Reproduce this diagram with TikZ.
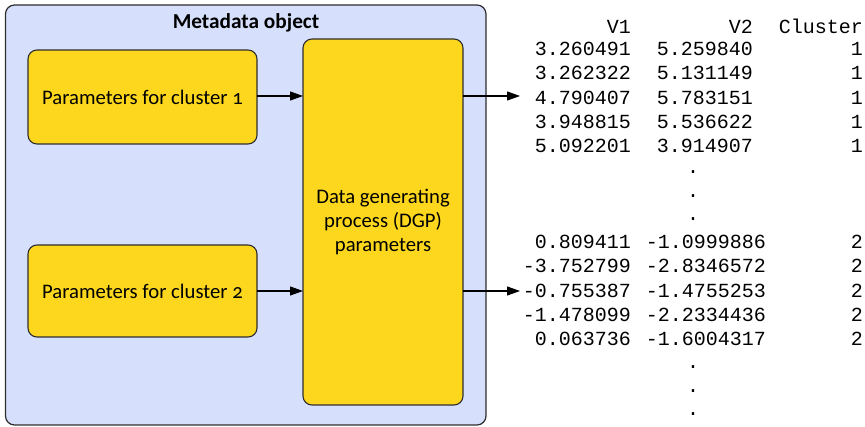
\documentclass[tikz,border=0pt]{standalone}
\usepackage{fontspec}
\setmainfont{Carlito}[Numbers=OldStyle]
\setmonofont{Liberation Mono}
\usetikzlibrary{arrows.meta}
\definecolor{metabg}{HTML}{D6DFFC}
\definecolor{boxyellow}{HTML}{FDD71E}
\definecolor{edge}{HTML}{2E2E2E}
\tikzset{
  outerbox/.style={draw=edge, line width=1.2pt, fill=metabg, rounded corners=9pt},
  parambox/.style={draw=edge, line width=1.1pt, fill=boxyellow, rounded corners=9pt},
  boxtext/.style={font=\fontsize{20.7}{24}\selectfont, align=center},
  flow/.style={draw=black, line width=1.2pt, -{Triangle[length=13pt,width=9pt]}},
  cell/.style={font=\ttfamily\fontsize{20}{24}\selectfont, anchor=base east, inner sep=0pt},
  dotcell/.style={font=\ttfamily\fontsize{20}{24}\selectfont, anchor=base, inner sep=0pt}
}
\begin{document}
\begin{tikzpicture}[x=1pt,y=-1pt]
\useasboundingbox (0,0) rectangle (865,427);
% outer metadata box
\draw[outerbox] (5.5,5) rectangle (486,425);
\node[font=\bfseries\fontsize{21.3}{24}\selectfont] (title) at (246,23) {Metadata object};
% parameter boxes
\draw[parambox] (28,50) rectangle (257,144);
\node[boxtext] (p1) at (142.5,97) {Parameters for cluster 1};
\draw[parambox] (28,245) rectangle (257,337);
\node[boxtext] (p2) at (142.5,291) {Parameters for cluster 2};
\draw[parambox] (303,39) rectangle (463,405);
\node[boxtext] (dgp) at (383,222) {Data generating\\process (DGP)\\parameters};
% named anchors for connectors
\coordinate (p1e) at (257,96);
\coordinate (p2e) at (257,291);
\coordinate (d1w) at (303,96);
\coordinate (d2w) at (303,291);
\coordinate (d1e) at (463,96);
\coordinate (d2e) at (463,291);
\coordinate (t1) at (520,96);
\coordinate (t2) at (520,291);
\draw[flow] (p1e) -- (d1w);
\draw[flow] (p2e) -- (d2w);
\draw[flow] (d1e) -- (t1);
\draw[flow] (d2e) -- (t2);
% table header
\node[cell] (hv1) at (631,34) {V1};
\node[cell] (hv2) at (753,34) {V2};
\node[cell] (hcl) at (863,34) {Cluster};
% block 1
\foreach \a/\b/\c [count=\i] in {3.260491/5.259840/1, 3.262322/5.131149/1, 4.790407/5.783151/1, 3.948815/5.536622/1, 5.092201/3.914907/1}{
  \pgfmathsetmacro{\yy}{55.5+24.3*(\i-1)}
  \node[cell] (a\i) at (631,\yy) {\a};
  \node[cell] (b\i) at (753,\yy) {\b};
  \node[cell] (c\i) at (863,\yy) {\c};
}
\node[dotcell] (da1) at (693,174) {.};
\node[dotcell] (da2) at (693,198) {.};
\node[dotcell] (da3) at (693,221) {.};
% block 2
\foreach \a/\b/\c [count=\i] in {0.809411/-1.0999886/2, -3.752799/-2.8346572/2, -0.755387/-1.4755253/2, -1.478099/-2.2334436/2, 0.063736/-1.6004317/2}{
  \pgfmathsetmacro{\yy}{248.5+24.3*(\i-1)}
  \node[cell] (e\i) at (631,\yy) {\a};
  \node[cell] (f\i) at (766,\yy) {\b};
  \node[cell] (g\i) at (863,\yy) {\c};
}
\node[dotcell] (db1) at (693,369) {.};
\node[dotcell] (db2) at (693,393) {.};
\node[dotcell] (db3) at (693,416) {.};
\end{tikzpicture}
\end{document}
